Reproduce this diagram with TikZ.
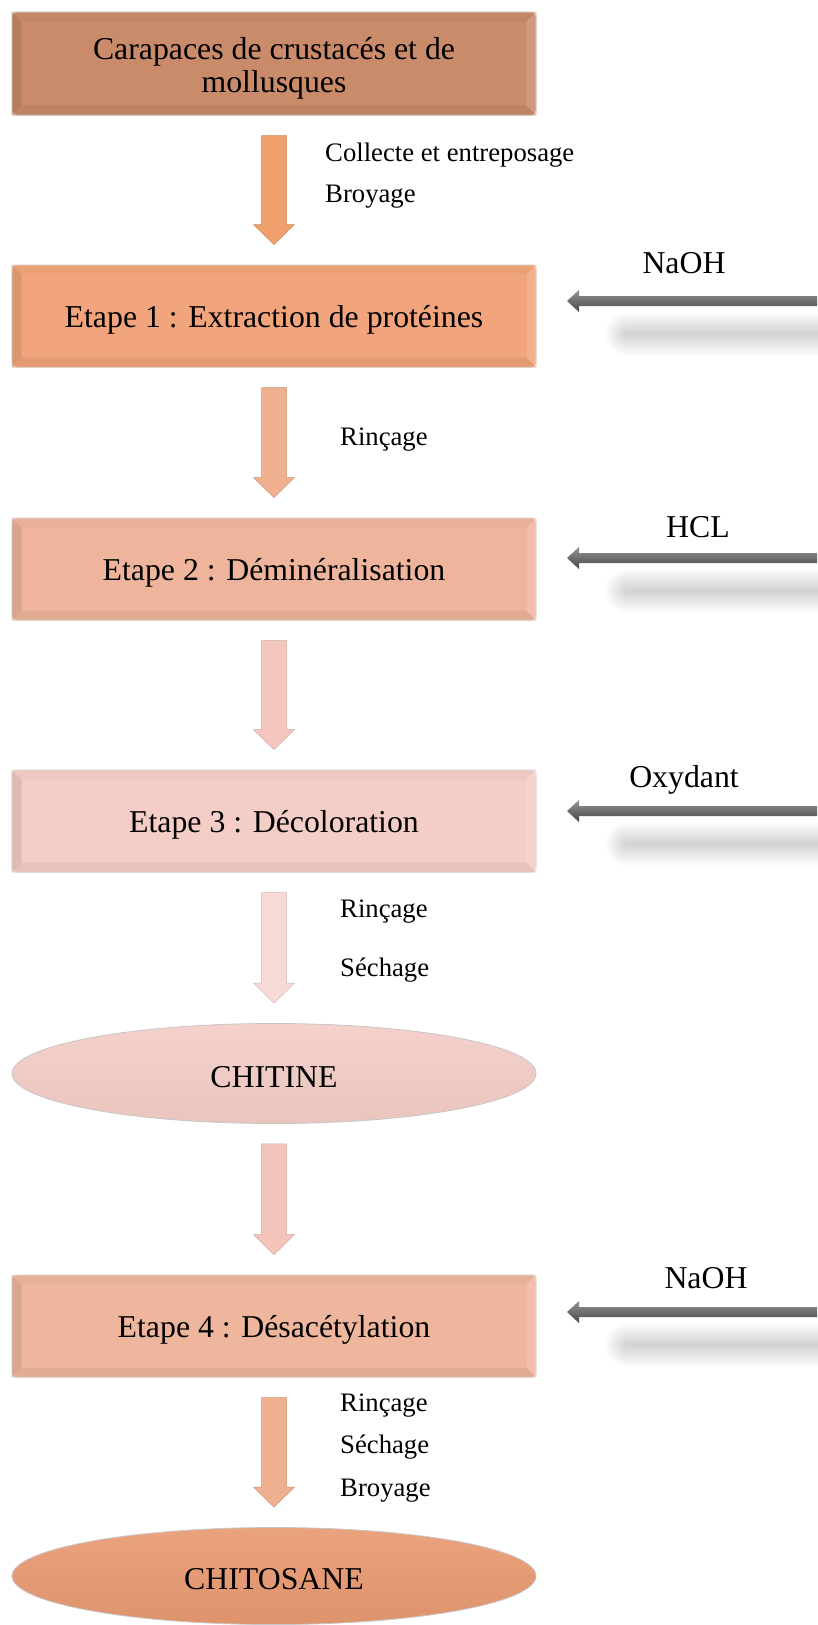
\documentclass[tikz,border=0pt]{standalone}
\usepackage{fontspec}
\setmainfont{Liberation Serif}
\usetikzlibrary{calc,shapes.geometric}
\definecolor{cbox0}{HTML}{C98B69}
\definecolor{cbox1}{HTML}{F2A57C}
\definecolor{cbox2}{HTML}{EFB59C}
\definecolor{cbox3}{HTML}{F4CEC6}
\definecolor{cbox4}{HTML}{EEB79D}
\definecolor{cchitine}{HTML}{F3CDC6}
\definecolor{cchitosane}{HTML}{E99B72}
\definecolor{carr0}{HTML}{EFA06C}
\definecolor{carr1}{HTML}{F0B090}
\definecolor{carr2}{HTML}{F4C6BE}
\definecolor{carr3}{HTML}{F7DAD6}
\definecolor{carr4}{HTML}{F3C5BA}
\definecolor{carr5}{HTML}{EEB08E}
\tikzset{
  stepbox/.style={rectangle, rounded corners=4pt, minimum width=524pt, minimum height=102pt,
    inner sep=0pt, draw=black!12, line width=1pt},
  boxtext/.style={inner sep=0pt, align=center, font=\fontsize{31.8}{33}\selectfont, yshift=-3.5pt},
  endell/.style={ellipse, minimum width=524pt, minimum height=100pt, inner sep=0pt,
    draw=black!22, line width=0.8pt},
  steplabel/.style={anchor=west, inner sep=0pt, font=\fontsize{26.7}{28}\selectfont, yshift=-3pt},
  reagent/.style={inner sep=0pt, font=\fontsize{31.8}{33}\selectfont, yshift=-1pt},
}
\newcommand\bevelit[2]{%
  \fill[#2!80!black, opacity=.45] (#1.north west) -- ($(#1.north west)+(10,10)$) -- ($(#1.south west)+(10,-10)$) -- (#1.south west) -- cycle;
  \fill[#2!88!black, opacity=.45] (#1.south west) -- ($(#1.south west)+(10,-10)$) -- ($(#1.south east)+(-10,-10)$) -- (#1.south east) -- cycle;
  \fill[#2!92!black, opacity=.35] (#1.north west) -- ($(#1.north west)+(10,10)$) -- ($(#1.north east)+(-10,10)$) -- (#1.north east) -- cycle;
  \fill[#2!70!white, opacity=.45] (#1.north east) -- ($(#1.north east)+(-10,10)$) -- ($(#1.south east)+(-10,-10)$) -- (#1.south east) -- cycle;
}
\newcommand\flowarr[3]{%
  \filldraw[fill=#3, draw=#3!85!black, line width=0.5pt, line join=miter]
    let \p1=($(#1.south)+(0,20)$), \p2=($(#2.north)+(0,-20)$) in
    ({\x1-12.5pt},{\y1}) -- ({\x1+12.5pt},{\y1}) -- ({\x1+12.5pt},{\y2+20pt}) -- ({\x1+20.5pt},{\y2+20pt})
    -- ({\x1},{\y2}) -- ({\x1-20.5pt},{\y2+20pt}) -- ({\x1-12.5pt},{\y2+20pt}) -- cycle;
}
\newcommand\reagentarr[2]{%
  \foreach \w in {44,42,...,2} \draw[line width=\w pt, black, opacity=0.0075, line cap=round]
    ($(#1)+(-190,33)$) -- ($(#1)+(30,33)$);
  \path[top color=black!42, bottom color=black!72]
    let \p1=(#1), \p2=(#2) in
    (\x1,{\y1+5pt}) -- ({\x2+12pt},{\y1+5pt}) -- ({\x2+12pt},{\y1+11pt}) -- (\x2,\y1)
    -- ({\x2+12pt},{\y1-11pt}) -- ({\x2+12pt},{\y1-5pt}) -- (\x1,{\y1-5pt}) -- cycle;
}
\begin{document}
\begin{tikzpicture}[x=1pt,y=-1pt]
\useasboundingbox[fill=white] (0,0) rectangle (817,1625);
% boxes
\node[stepbox, fill=cbox0, minimum height=103pt] (b0) at (274,63.5) {};
\bevelit{b0}{cbox0}
\node[boxtext, yshift=-1pt] (t0) at (b0.center) {Carapaces de crustacés et de\\mollusques};
\node[stepbox, fill=cbox1] (b1) at (274,316) {};
\bevelit{b1}{cbox1}
\node[boxtext] (t1) at (b1.center) {Etape 1 : Extraction de protéines};
\node[stepbox, fill=cbox2] (b2) at (274,569) {};
\bevelit{b2}{cbox2}
\node[boxtext] (t2) at (b2.center) {Etape 2 : Déminéralisation};
\node[stepbox, fill=cbox3] (b3) at (274,821) {};
\bevelit{b3}{cbox3}
\node[boxtext] (t3) at (b3.center) {Etape 3 : Décoloration};
\node[endell, top color=cchitine!92!white, bottom color=cchitine!96!black] (chitine) at (274,1073.5) {};
\node[boxtext] (t5) at (chitine.center) {CHITINE};
\node[stepbox, fill=cbox4] (b4) at (274,1326) {};
\bevelit{b4}{cbox4}
\node[boxtext] (t4) at (b4.center) {Etape 4 : Désacétylation};
\node[endell, minimum height=97pt, top color=cchitosane!92!white, bottom color=cchitosane!95!black] (chitosane) at (274,1576) {};
\node[boxtext] (t6) at (chitosane.center) {CHITOSANE};
% flow arrows
\flowarr{b0}{b1}{carr0}
\flowarr{b1}{b2}{carr1}
\flowarr{b2}{b3}{carr2}
\flowarr{b3}{chitine}{carr3}
\flowarr{chitine}{b4}{carr4}
\flowarr{b4}{chitosane}{carr5}
% step labels
\node[steplabel] (l01) at (325,152) {Collecte et entreposage};
\node[steplabel] (l02) at (325,194) {Broyage};
\node[steplabel] (l11) at (340,437) {Rinçage};
\node[steplabel] (l31) at (340,909) {Rinçage};
\node[steplabel] (l32) at (340,967) {Séchage};
\node[steplabel] (l51) at (340,1403) {Rinçage};
\node[steplabel] (l52) at (340,1444) {Séchage};
\node[steplabel] (l53) at (340,1488) {Broyage};
% reagents
\coordinate (in1) at (817,301); \coordinate (tip1) at (567,301);
\coordinate (in2) at (817,558); \coordinate (tip2) at (567,558);
\coordinate (in3) at (817,811); \coordinate (tip3) at (567,811);
\coordinate (in4) at (817,1312); \coordinate (tip4) at (567,1312);
\reagentarr{in1}{tip1}
\reagentarr{in2}{tip2}
\reagentarr{in3}{tip3}
\reagentarr{in4}{tip4}
\node[reagent] (r1) at (684,262) {NaOH};
\node[reagent] (r2) at (698,526) {HCL};
\node[reagent] (r3) at (684,779) {Oxydant};
\node[reagent] (r4) at (706,1277) {NaOH};
\end{tikzpicture}
\end{document}
